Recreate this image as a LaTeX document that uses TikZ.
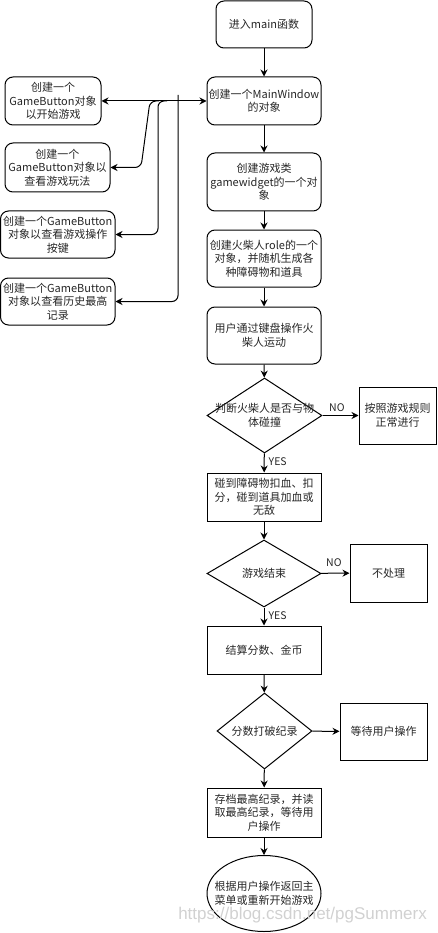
\documentclass[tikz,border=0pt]{standalone}
\usepackage{fontspec}
\setmainfont{Noto Sans CJK SC}
\newfontfamily\wmfont{Liberation Sans}
\usetikzlibrary{shapes.geometric,arrows.meta}
\begin{document}
\begin{tikzpicture}[x=1pt,y=-1pt,
  every node/.style={font=\fontsize{11}{13.5}\selectfont, text=black!85, align=center, inner sep=0pt},
  rbox/.style={draw, line width=1pt, rounded corners=8pt},
  sbox/.style={draw, line width=1pt},
  dia/.style={draw, line width=1pt, diamond},
  arr/.style={line width=1pt, -{Stealth[length=7pt,width=7pt]}},
  lbl/.style={font=\fontsize{10.5}{12}\selectfont}
]
\useasboundingbox (0,0) rectangle (437,933);
% main column
\node[rbox, minimum width=96, minimum height=47] (n1) at (264,24.5) {进入main函数};
\node[rbox, minimum width=114, minimum height=48] (n2) at (264,101) {创建一个MainWindow\\的对象};
\node[rbox, minimum width=114, minimum height=58] (n3) at (264,182) {创建游戏类\\gamewidget的一个对\\象};
\node[rbox, minimum width=114, minimum height=57] (n4) at (264,258.5) {创建火柴人role的一个\\对象，并随机生成各\\种障碍物和道具};
\node[rbox, minimum width=114, minimum height=57] (n5) at (264,335.5) {用户通过键盘操作火\\柴人运动};
\node[dia, minimum width=115, minimum height=75] (d1) at (264.5,415.5) {};
\node at (d1) {判断火柴人是否与物\\体碰撞};
\node[sbox, minimum width=77, minimum height=57] (n7) at (397.5,415.5) {按照游戏规则\\正常进行};
\node[sbox, minimum width=114, minimum height=48] (n8) at (264,497) {碰到障碍物扣血、扣\\分，碰到道具加血或\\无敌};
\node[dia, minimum width=114, minimum height=67] (d2) at (264,573.5) {};
\node at (d2) {游戏结束};
\node[sbox, minimum width=77, minimum height=58] (n10) at (388.5,573) {不处理};
\node[sbox, minimum width=114, minimum height=48] (n11) at (264,650) {结算分数、金币};
\node[dia, minimum width=95, minimum height=76] (d3) at (264.5,731) {};
\node at (d3) {分数打破纪录};
\node[sbox, minimum width=87, minimum height=57] (n13) at (383.5,731.5) {等待用户操作};
\node[sbox, minimum width=114, minimum height=49] (n14) at (264,812.5) {存档最高纪录，并读\\取最高纪录，等待用\\户操作};
\node[draw, line width=1pt, ellipse, minimum width=114, minimum height=76] (e15) at (264,893.5) {};
\node at (e15) {根据用户操作返回主\\菜单或重新开始游戏};
% left column
\node[rbox, minimum width=96, minimum height=48] (b1) at (53,101) {创建一个\\GameButton对象\\以开始游戏};
\node[rbox, minimum width=105, minimum height=49] (b2) at (57.5,167.5) {创建一个\\GameButton对象以\\查看游戏玩法};
\node[rbox, minimum width=114.5, minimum height=47] (b3) at (57.75,234.5) {创建一个GameButton\\对象以查看游戏操作\\按键};
\node[rbox, minimum width=114.5, minimum height=47] (b4) at (57.75,301.5) {创建一个GameButton\\对象以查看历史最高\\记录};
% main arrows
\draw[arr] (n1) -- (n2);
\draw[arr] (n2) -- (n3);
\draw[arr] (n3) -- (n4);
\draw[arr] (n4) -- (n5);
\draw[arr] (n5) -- (d1);
\draw[arr] (d1) -- node[lbl, above=3pt, pos=0.4] {NO} (n7);
\draw[arr] (d1) -- node[lbl, right, xshift=4pt, pos=0.45] {YES} (n8);
\draw[arr] (n8) -- (d2);
\draw[arr] (d2) -- node[lbl, above, pos=0.45, yshift=6pt] {NO} (n10);
\draw[arr] (d2) -- node[lbl, right, xshift=4pt, pos=0.45] {YES} (n11);
\draw[arr] (n11) -- (d3);
\draw[arr] (d3) -- (n13);
\draw[arr] (d3) -- (n14);
\draw[arr] (n14) -- (e15);
% left connectors
\draw[line width=1pt, {Stealth[length=7pt,width=7pt]}-{Stealth[length=7pt,width=7pt]}] (b1.east) -- (n2.west);
\coordinate (c2) at (159,101);
\coordinate (c3) at (167,101);
\coordinate (c4) at (178,95);
\draw[arr, rounded corners=6pt] (c2) -- (150,101) -- (141,167.5) -- (b2.east);
\draw[arr, rounded corners=6pt] (c3) -- (158,101) -- (158,234.5) -- (b3.east);
\draw[arr, rounded corners=6pt] (c4) -- (178,301.5) -- (b4.east);
% watermark
\node[font=\wmfont\fontsize{17}{17}\selectfont, text=black!18, anchor=east] (wm) at (427,915) {https://blog.csdn.net/pgSummerx};
\end{tikzpicture}
\end{document}
